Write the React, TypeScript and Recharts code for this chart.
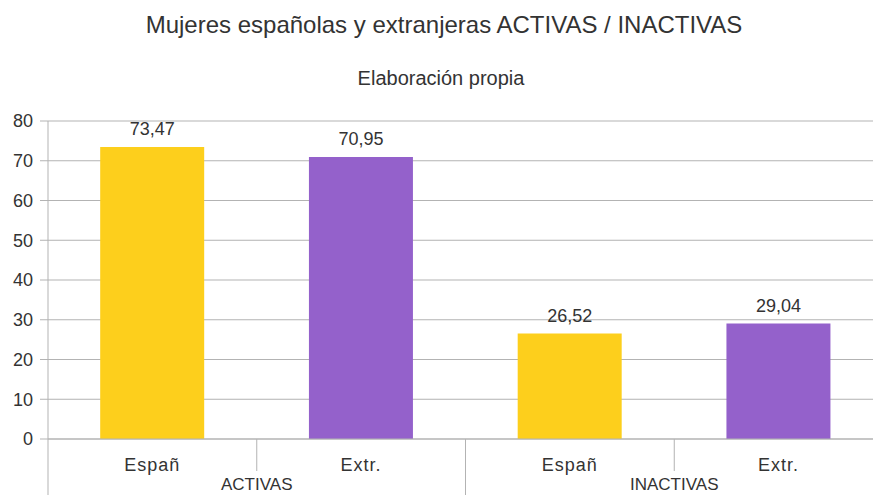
import { BarChart, Bar, XAxis, YAxis, CartesianGrid, Cell, LabelList } from 'recharts';

const categories = ['Españ', 'Extr.', 'Españ', 'Extr.'];
const values = [73.47, 70.95, 26.52, 29.04];
const groups = ['ACTIVAS', 'INACTIVAS'];
const yTicks = [0, 10, 20, 30, 40, 50, 60, 70, 80];

const BAR_COLORS = ['#fdcf1c', '#9461cb', '#fdcf1c', '#9461cb'];
const GRID = '#b3b3b3';
const TEXT = '#333333';
const FONT = '"Liberation Sans", Arial, sans-serif';

const CHART_W = 900;
const CHART_H = 495;
const MARGIN = { top: 121, right: 17, bottom: 0, left: 0 };
const Y_W = 48;
const X_H = 56;
// width of one category slot on the x axis
const BAND = (CHART_W - MARGIN.left - MARGIN.right - Y_W) / categories.length;

const data = categories.map((name, i) => ({ name, value: values[i] }));

// category label + the separator lines + the group label under each pair
function CategoryTick(props: any) {
  const { x, y, payload, index } = props;
  const i = payload?.index ?? index;
  const half = BAND / 2;
  return (
    <g>
      <text x={x} y={y + 32} textAnchor="middle" fontSize={18} fill={TEXT} fontFamily={FONT} letterSpacing={1}>
        {payload.value}
      </text>
      {i === 0 && <line x1={x - half} y1={y} x2={x - half} y2={y + 60} stroke={GRID} />}
      <line x1={x + half} y1={y} x2={x + half} y2={i % 2 === 1 ? y + 60 : y + 32} stroke={GRID} />
      {i % 2 === 0 && (
        <text x={x + half} y={y + 51} textAnchor="middle" fontSize={17} fill={TEXT} fontFamily={FONT}>
          {groups[i / 2]}
        </text>
      )}
    </g>
  );
}

export default function App() {
  return (
    <div
      style={{
        position: 'fixed',
        left: 0,
        top: 0,
        width: 873,
        height: 495,
        overflow: 'hidden',
        background: '#fff',
        fontFamily: FONT,
      }}
    >
      <svg width={873} height={100} style={{ position: 'absolute', left: 0, top: 0 }}>
        <text x={444} y={33} textAnchor="middle" fontSize={24} fill={TEXT} fontFamily={FONT}>
          Mujeres españolas y extranjeras ACTIVAS / INACTIVAS
        </text>
        <text x={441} y={85} textAnchor="middle" fontSize={20} fill={TEXT} fontFamily={FONT}>
          Elaboración propia
        </text>
      </svg>
      <div style={{ position: 'absolute', left: 0, top: 0 }}>
        <BarChart width={CHART_W} height={CHART_H} data={data} margin={MARGIN} barCategoryGap="25%">
          <CartesianGrid vertical={false} stroke={GRID} strokeWidth={1} />
          <XAxis
            dataKey="name"
            height={X_H}
            interval={0}
            tickLine={false}
            tickSize={0}
            tickMargin={0}
            axisLine={{ stroke: GRID }}
            tick={<CategoryTick />}
          />
          <YAxis
            width={Y_W}
            domain={[0, 80]}
            ticks={yTicks}
            interval={0}
            tickSize={8}
            tickMargin={7}
            axisLine={{ stroke: GRID }}
            tickLine={{ stroke: GRID }}
            tick={{ fontSize: 18, fill: TEXT, fontFamily: FONT }}
          />
          <Bar dataKey="value" isAnimationActive={false}>
            {data.map((d, i) => (
              <Cell key={i} fill={BAR_COLORS[i]} />
            ))}
            <LabelList
              dataKey="value"
              position="top"
              offset={12}
              fontSize={18}
              fill={TEXT}
              fontFamily={FONT}
              formatter={(v: any) => String(v).replace('.', ',')}
            />
          </Bar>
        </BarChart>
      </div>
    </div>
  );
}
